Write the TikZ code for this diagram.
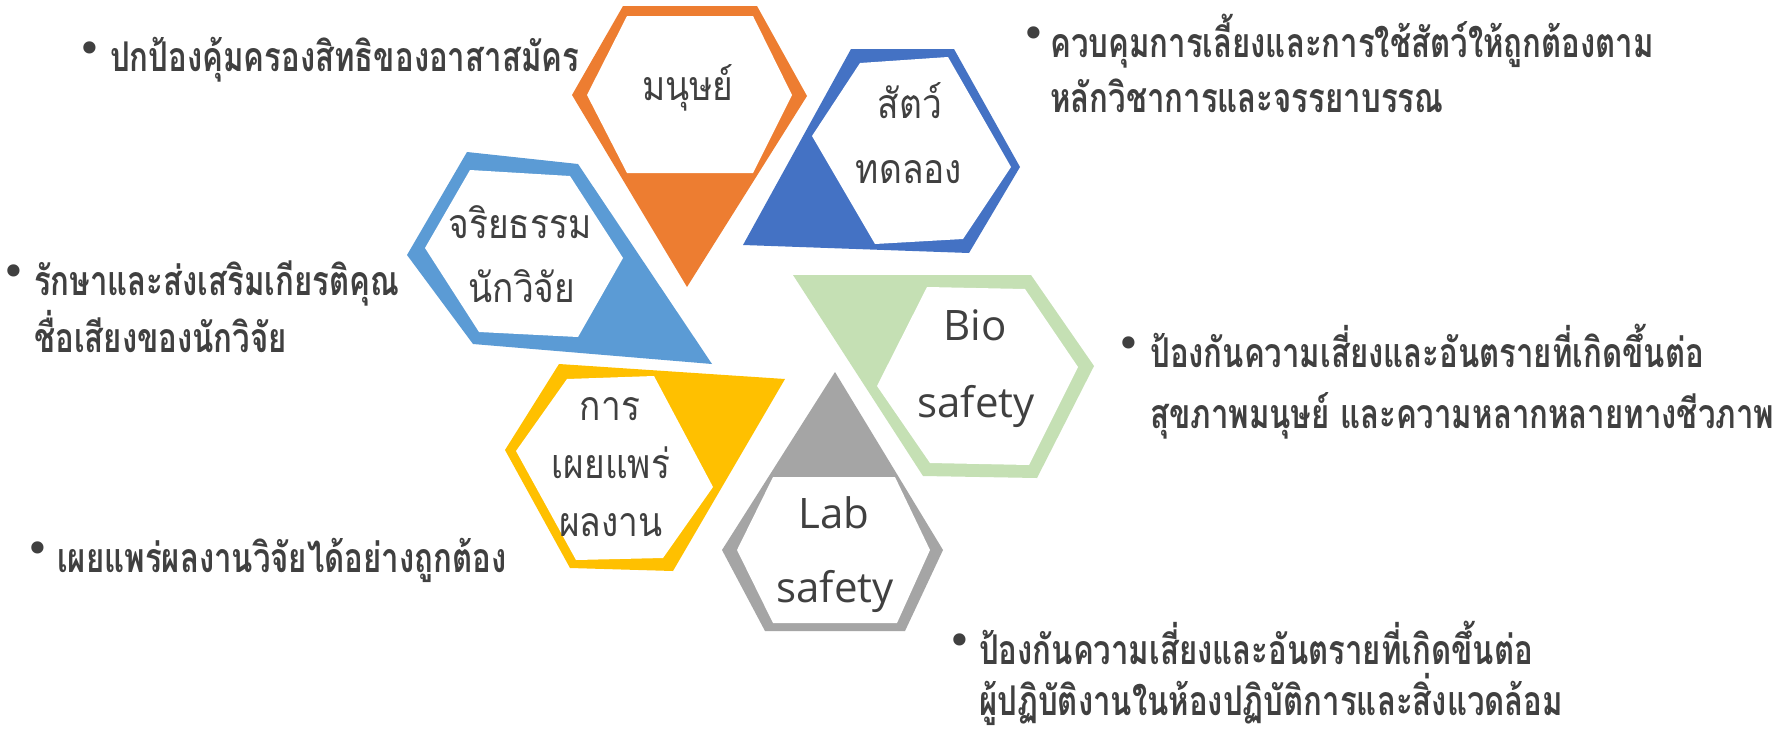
\documentclass[tikz,border=0pt]{standalone}
\usepackage{fontspec}
\newfontfamily\thaif[Script=Thai,FakeStretch=0.86]{Loma}
\newfontfamily\thaib[Script=Thai,FakeStretch=0.76]{Loma}
\newfontfamily\latf{Open Sans}
\newfontfamily\dvf{DejaVu Sans}
\definecolor{txt}{HTML}{404040}
\definecolor{cor}{HTML}{ED7D31}
\definecolor{cbl}{HTML}{4472C4}
\definecolor{clb}{HTML}{5B9BD5}
\definecolor{cye}{HTML}{FFC000}
\definecolor{cgr}{HTML}{A5A5A5}
\definecolor{cgn}{HTML}{C5E0B4}
\tikzset{
  lbl/.style={font=\thaif\fontsize{41}{43}\selectfont, text=txt, anchor=base, inner sep=0pt},
  latlbl/.style={font=\latf\fontsize{42}{44}\selectfont, text=txt, anchor=base, inner sep=0pt},
  btxt/.style={font=\thaib\bfseries\fontsize{41}{43}\selectfont, text=txt, anchor=base west, inner sep=0pt},
  bdot/.style={font=\dvf\fontsize{42}{44}\selectfont, text=txt, anchor=center, inner sep=0pt},
  inner/.style={fill=white}
}
\begin{document}
\begin{tikzpicture}[x=1pt,y=-1pt]
\useasboundingbox (0,0) rectangle (1785,731);
\fill[white] (0,0) rectangle (1785,731);
% orange
\fill[cor] (623,6) -- (757,6) -- (807,96) -- (687,287) -- (572,95) -- cycle;
\fill[inner] (627,16) -- (753,16) -- (792,95) -- (753,173) -- (627,173) -- (587,95) -- cycle;
% blue
\fill[cbl] (851,49) -- (954,49) -- (1020,167) -- (969,253) -- (743,245) -- cycle;
\fill[inner] (860,63) -- (948,57) -- (1011,167) -- (963,239) -- (875,244) -- (812,136) -- cycle;
% light blue
\fill[clb] (467,152) -- (578,164) -- (712,364) -- (473,344) -- (407,255) -- cycle;
\fill[inner] (470,170) -- (570,176) -- (623,258) -- (578,337) -- (479,332) -- (425,248) -- cycle;
% yellow
\fill[cye] (559,364) -- (785,379) -- (673,571) -- (570,568) -- (505,450) -- cycle;
\fill[inner] (567,379) -- (654,376) -- (713,487) -- (663,558) -- (576,560) -- (516,451) -- cycle;
% gray
\fill[cgr] (835,372) -- (943,550) -- (905,631) -- (765,631) -- (722,550) -- cycle;
\fill[inner] (773,477) -- (895,477) -- (930,550) -- (897,623) -- (773,623) -- (737,550) -- cycle;
% green
\fill[cgn] (793,275) -- (1031,275) -- (1094,366) -- (1037,478) -- (923,476) -- cycle;
\fill[inner] (927,287) -- (1025,289) -- (1078,367) -- (1029,465) -- (930,463) -- (877,386) -- cycle;

% shape labels
\node[lbl] (man) at (688,100) {มนุษย์};
\node[lbl] (an1) at (910,118) {สัตว์};
\node[lbl] (an2) at (909,183) {ทดลอง};
\node[lbl] (et1) at (520,238) {จริยธรรม};
\node[lbl] (et2) at (522,302) {นักวิจัย};
\node[lbl] (pu1) at (610,420) {การ};
\node[lbl] (pu2) at (611,478) {เผยแพร่};
\node[lbl] (pu3) at (611,536) {ผลงาน};
\node[latlbl] (lab1) at (834,528) {Lab};
\node[latlbl] (lab2) at (835,602) {safety};
\node[latlbl] (bio1) at (975,340) {Bio};
\node[latlbl] (bio2) at (976,417) {safety};

% bullets
\node[bdot] (d1) at (90,53) {•};
\node[btxt] (t1) at (110,71) {ปกป้องคุ้มครองสิทธิของอาสาสมัคร};
\node[bdot] (d2) at (1034,38) {•};
\node[btxt] (t2a) at (1050,57) {ควบคุมการเลี้ยงและการใช้สัตว์ให้ถูกต้องตาม};
\node[btxt] (t2b) at (1050,112) {หลักวิชาการและจรรยาบรรณ};
\node[bdot] (d3) at (14,276) {•};
\node[btxt] (t3a) at (34,295) {รักษาและส่งเสริมเกียรติคุณ};
\node[btxt] (t3b) at (34,352) {ชื่อเสียงของนักวิจัย};
\node[bdot] (d4) at (1129,348) {•};
\node[btxt] (t4a) at (1150,367) {ป้องกันความเสี่ยงและอันตรายที่เกิดขึ้นต่อ};
\node[btxt] (t4b) at (1150,428) {สุขภาพมนุษย์ และความหลากหลายทางชีวภาพ};
\node[bdot] (d5) at (38,553) {•};
\node[btxt] (t5) at (57,572) {เผยแพร่ผลงานวิจัยได้อย่างถูกต้อง};
\node[bdot] (d6) at (960,645) {•};
\node[btxt] (t6a) at (979,664) {ป้องกันความเสี่ยงและอันตรายที่เกิดขึ้นต่อ};
\node[btxt] (t6b) at (979,715) {ผู้ปฏิบัติงานในห้องปฏิบัติการและสิ่งแวดล้อม};
\end{tikzpicture}
\end{document}
